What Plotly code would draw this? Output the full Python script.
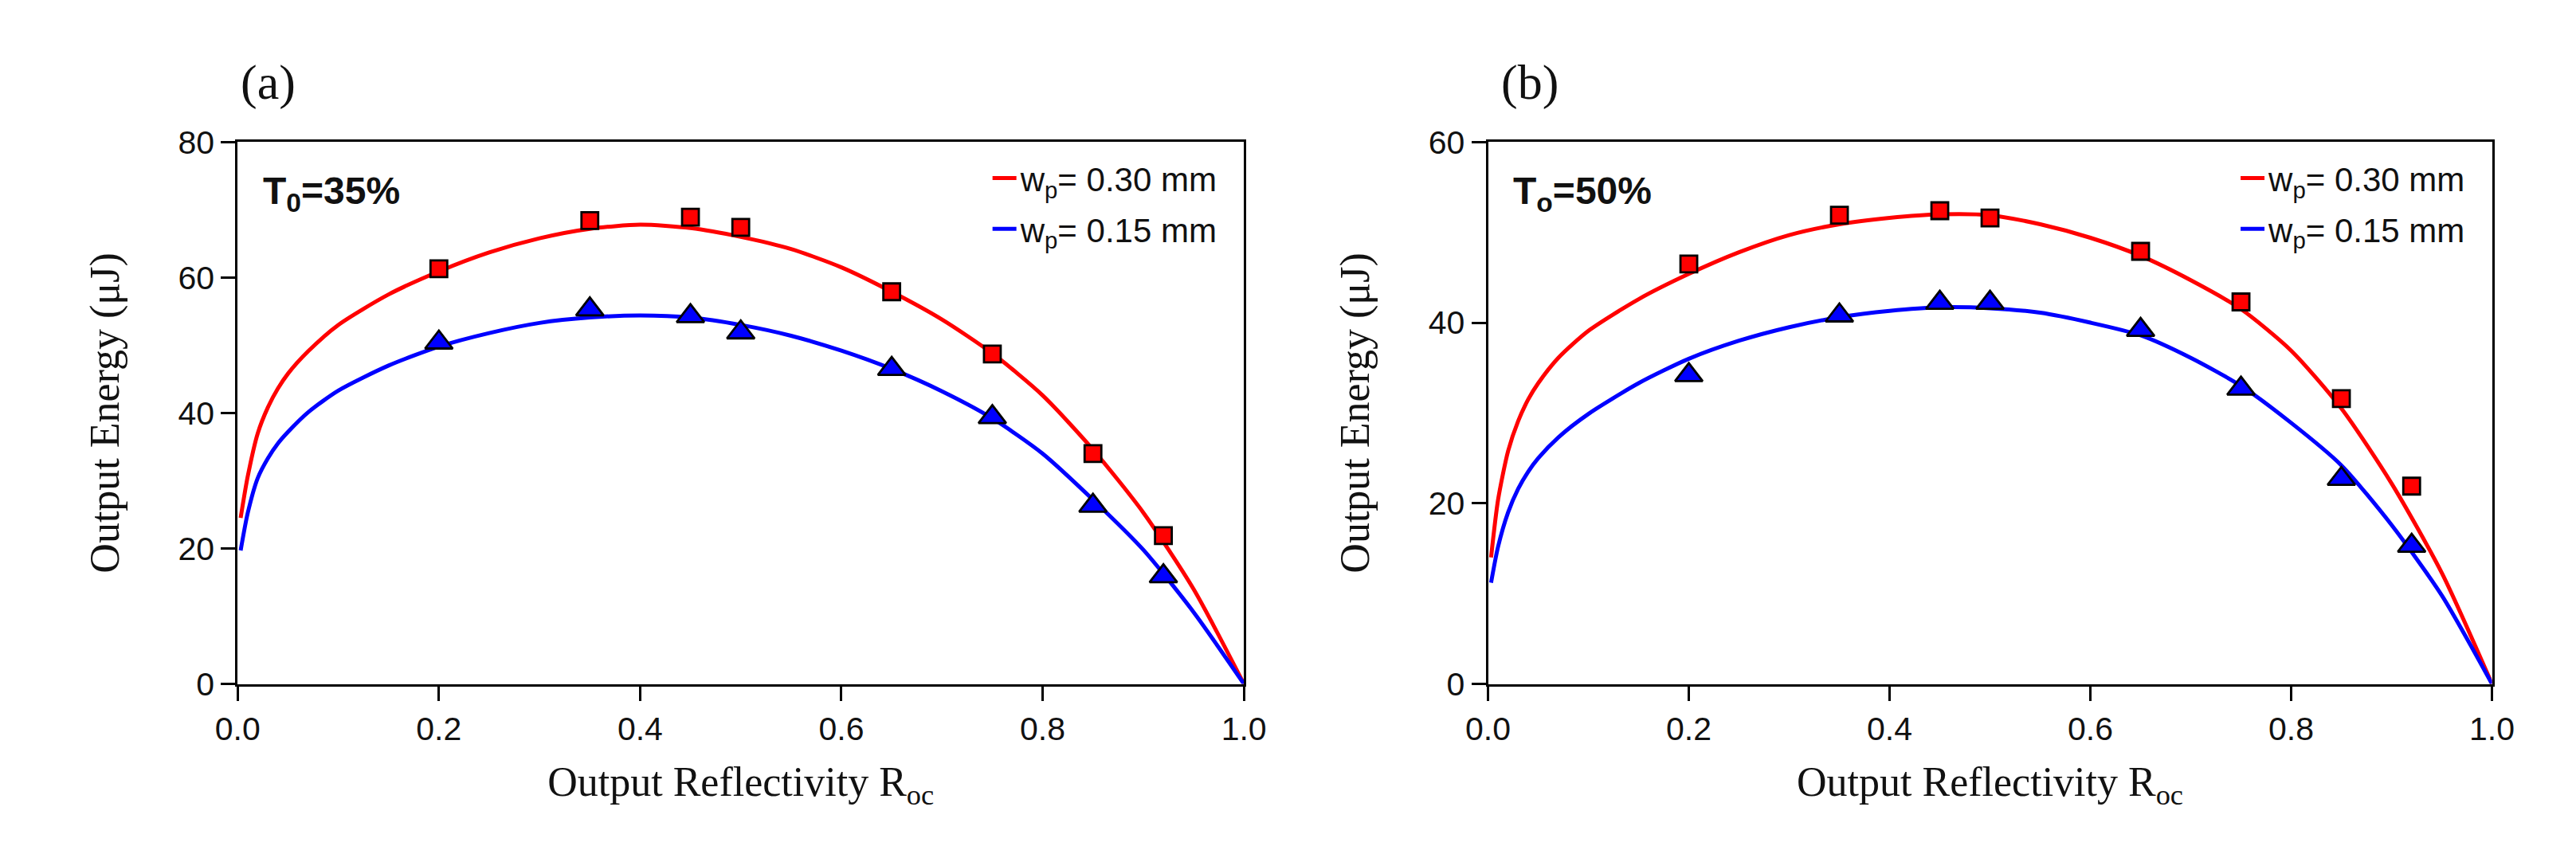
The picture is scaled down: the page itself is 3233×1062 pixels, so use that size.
import plotly.graph_objects as go
from plotly.subplots import make_subplots

# measured points (R_oc, output energy in uJ)
r_meas = [0.20, 0.35, 0.45, 0.50, 0.65, 0.75, 0.85, 0.92]

a_red_pts = [61.3, 68.4, 68.9, 67.4, 57.9, 48.7, 34.0, 21.9]
a_blue_pts = [50.4, 55.3, 54.3, 51.9, 46.5, 39.4, 26.3, 15.9]
b_red_pts = [46.5, 51.9, 52.4, 51.6, 47.9, 42.3, 31.6, 21.9]
b_blue_pts = [34.2, 40.8, 42.2, 42.2, 39.2, 32.7, 22.7, 15.3]

# fitted curves
r_fit = [0.003, 0.01, 0.02, 0.03, 0.04, 0.05, 0.07, 0.10, 0.15, 0.20, 0.25, 0.30,
         0.35, 0.40, 0.45, 0.50, 0.55, 0.60, 0.65, 0.70, 0.75, 0.80, 0.85, 0.90,
         0.95, 1.00]

a_red_fit = [24.5, 30.6, 37.0, 40.8, 43.6, 45.8, 49.1, 53.0, 57.5, 60.9, 63.7, 65.8,
             67.2, 67.8, 67.3, 66.0, 64.2, 61.5, 57.9, 53.8, 48.8, 42.6, 34.6, 25.3,
             14.0, 0.0]
a_blue_fit = [19.7, 25.2, 30.4, 33.3, 35.5, 37.2, 40.1, 43.3, 47.0, 49.8, 51.8, 53.3,
              54.1, 54.4, 54.1, 53.0, 51.4, 49.2, 46.5, 43.2, 39.2, 34.0, 27.2, 19.8,
              10.6, 0.0]
b_red_fit = [14.0, 20.4, 25.8, 29.1, 31.5, 33.3, 36.1, 39.1, 42.6, 45.4, 47.8, 49.7,
             50.9, 51.6, 52.0, 51.9, 50.9, 49.4, 47.4, 44.7, 41.5, 36.9, 30.5, 22.2,
             12.3, 0.0]
b_blue_fit = [11.2, 15.2, 19.0, 21.6, 23.5, 25.0, 27.3, 29.9, 33.3, 36.0, 38.0, 39.5,
              40.6, 41.3, 41.7, 41.6, 41.1, 40.0, 38.6, 36.1, 33.0, 28.9, 24.2, 17.6,
              9.8, 0.0]

names = ["w<sub>p</sub>= 0.30 mm", "w<sub>p</sub>= 0.15 mm"]
panel_tags = ["(a)", "(b)"]
panel_notes = ["T<sub>0</sub>=35%", "T<sub>o</sub>=50%"]
y_max = [80, 60]

W, H = 3233, 1062
RED, BLUE = "#FF0000", "#0000FF"

fig = make_subplots(rows=1, cols=2)

panels = [(a_red_fit, a_blue_fit, a_red_pts, a_blue_pts),
          (b_red_fit, b_blue_fit, b_red_pts, b_blue_pts)]

for i, (rf, bf, rp, bp) in enumerate(panels):
    col = i + 1
    leg = "legend" if i == 0 else "legend2"
    fig.add_trace(go.Scatter(x=r_fit, y=rf, mode="lines", line=dict(color=RED, width=5, shape="spline", smoothing=0.7),
                             name=names[0], legend=leg, legendgroup="r%d" % i), row=1, col=col)
    fig.add_trace(go.Scatter(x=r_fit, y=bf, mode="lines", line=dict(color=BLUE, width=5, shape="spline", smoothing=0.7),
                             name=names[1], legend=leg, legendgroup="b%d" % i), row=1, col=col)
    fig.add_trace(go.Scatter(x=r_meas, y=rp, mode="markers", showlegend=False,
                             marker=dict(symbol="square", size=21, color=RED, line=dict(color="black", width=2.8))),
                  row=1, col=col)
    fig.add_trace(go.Scatter(x=r_meas, y=bp, mode="markers", showlegend=False,
                             marker=dict(symbol="triangle-up", size=30, color=BLUE, line=dict(color="black", width=2.8))),
                  row=1, col=col)

tickfont = dict(family="Liberation Sans, Arial", size=41, color="#111111")
titlefont = dict(family="Liberation Serif, Times New Roman", size=52, color="#111111")

x_px = [(266, 1552), (1864, 3147)]
x_dom = [[a / W, b / W] for a, b in x_px]
y_dom = [1 - 865 / H, 1 - 154 / H]

for i in range(2):
    fig.update_xaxes(row=1, col=i + 1, domain=x_dom[i], range=[0, 1], tickvals=[0, 0.2, 0.4, 0.6, 0.8, 1.0],
                     tickformat=".1f", ticks="outside", ticklen=18, tickwidth=3, tickcolor="black",
                     showline=True, linewidth=3, linecolor="black", mirror=True, showgrid=False, zeroline=False,
                     tickfont=tickfont, title=dict(text="Output Reflectivity R<sub>oc</sub>", font=titlefont, standoff=26))
    fig.update_yaxes(row=1, col=i + 1, domain=y_dom, range=[0, y_max[i]], dtick=20,
                     ticks="outside", ticklen=18, tickwidth=3, tickcolor="black",
                     showline=True, linewidth=3, linecolor="black", mirror=True, showgrid=False, zeroline=False,
                     tickfont=tickfont, title=dict(text="Output Energy (\u03bcJ)", font=titlefont, standoff=58))

tag_x = [305, 1917]
for i in range(2):
    left = x_px[i][0]
    fig.add_annotation(xref="paper", yref="paper", x=tag_x[i] / W, y=1 - 76 / H, text=panel_tags[i],
                       xanchor="center", yanchor="middle", showarrow=False,
                       font=dict(family="Liberation Serif, Times New Roman", size=62, color="#111111"))
    fig.add_annotation(xref="paper", yref="paper", x=(left + 30) / W, y=1 - 222 / H, text="<b>%s</b>" % panel_notes[i],
                       xanchor="left", yanchor="middle", showarrow=False,
                       font=dict(family="Liberation Sans, Arial", size=48, color="#111111"))

legend_style = dict(xanchor="right", yanchor="top", y=1 - 166 / H, bgcolor="rgba(0,0,0,0)",
                    font=dict(family="Liberation Sans, Arial", size=42, color="#111111"), tracegroupgap=6)
fig.update_layout(
    width=W, height=H,
    margin=dict(l=0, r=0, t=0, b=0),
    plot_bgcolor="white", paper_bgcolor="white",
    legend=dict(x=(x_px[0][1] - 28) / W, **legend_style),
    legend2=dict(x=(x_px[1][1] - 28) / W, **legend_style),
)

fig.write_html("out.html")
